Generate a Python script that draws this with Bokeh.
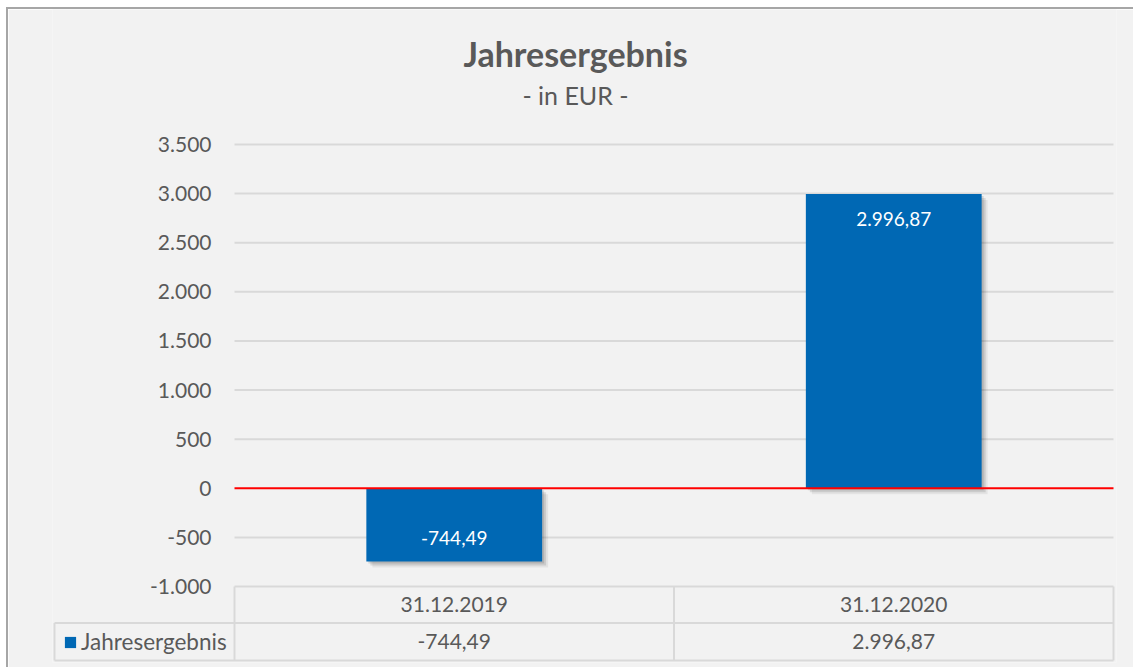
from bokeh.plotting import figure
from bokeh.models import Range1d, FixedTicker, Legend, LegendItem, ColumnDataSource
from bokeh.core.properties import value
from bokeh.embed import file_html
from bokeh.resources import INLINE

# ---- data ----
categories = ["31.12.2019", "31.12.2020"]
series_name = "Jahresergebnis"
values = [-744.49, 2996.87]
tick_values = [-1000, -500, 0, 500, 1000, 1500, 2000, 2500, 3000, 3500]
tick_labels = ["-1.000", "-500", "0", "500", "1.000", "1.500", "2.000", "2.500", "3.000", "3.500"]
title_text = "Jahresergebnis"
subtitle_text = "- in EUR -"


def de(v):
    s = f"{v:,.2f}"
    return s.replace(",", "X").replace(".", ",").replace("X", ".")


FONT = "Lato"
TXT = "#595959"
BLUE = "#0068b4"
GRID = "#d9d9d9"

# pixel geometry helpers (layout only, page pixels)
FRAME_L = 52          # frame left
FRAME_T = 9           # frame top
PLOT_L = 234          # where the category axis starts
Y3500 = 144           # where the top tick sits
PX_X = 439.5          # px per category unit
PX_Y = 442.0 / 4500   # px per value unit


def px_to_x(px):
    return (px - PLOT_L) / PX_X


def px_to_y(py):
    return 3500 - (py - Y3500) / PX_Y


x0 = px_to_x(FRAME_L)
x1 = px_to_x(1116)
y1 = px_to_y(FRAME_T)
y0 = px_to_y(662)
cell_left = px_to_x(54)
row1_bottom = px_to_y(622.5)
row2_bottom = px_to_y(660)
row1_mid = (-1000 + row1_bottom) / 2
row2_mid = (row1_bottom + row2_bottom) / 2

p = figure(width=1127, height=660, output_backend="svg", toolbar_location=None,
           x_range=Range1d(x0, x1), y_range=Range1d(y0, y1),
           x_axis_type=None, title=None,
           min_border_left=FRAME_L - 8, min_border_right=19, min_border_top=0, min_border_bottom=7,
           background_fill_color="#f2f2f2", border_fill_color="#f2f2f2",
           outline_line_color=None, margin=(7, 0, 0, 6),
           styles={"border-left": "2px solid #a6a6a6", "border-top": "2px solid #a6a6a6"})

n = len(categories)
xs = [i + 0.5 for i in range(n)]
src = ColumnDataSource(dict(
    x=xs, cat=categories, v=values, lab=[de(v) for v in values],
    top=[max(v, 0) for v in values], bottom=[min(v, 0) for v in values],
    yoff=[25 if v >= 0 else -23 for v in values],
))

# y axis (labels pulled inside, right-aligned before the plot area)
p.yaxis.ticker = FixedTicker(ticks=tick_values)
p.yaxis.major_label_overrides = {t: l for t, l in zip(tick_values, tick_labels)}
p.yaxis.axis_line_color = None
p.yaxis.major_tick_line_color = None
p.yaxis.minor_tick_line_color = None
p.yaxis.major_tick_out = 0
p.yaxis.major_tick_in = 0
p.yaxis.major_label_standoff = -(211 - FRAME_L)
p.yaxis.major_label_text_font = FONT
p.yaxis.major_label_text_font_size = "21px"
p.yaxis.major_label_text_color = TXT
p.ygrid.visible = False
p.xgrid.visible = False

# gridlines over the plot area only
grid_vals = [t for t in tick_values if t != 0]
p.segment(x0=[0] * len(grid_vals), x1=[n] * len(grid_vals), y0=grid_vals, y1=grid_vals,
          line_color=GRID, line_width=2)

# shadows
for d, a in [(6, 0.06), (4, 0.10), (2, 0.12)]:
    dx = d / PX_X
    dy = d / PX_Y
    p.quad(left=[x - 0.2 + dx for x in xs], right=[x + 0.2 + dx for x in xs],
           top=[t - dy for t in src.data["top"]], bottom=[b - dy for b in src.data["bottom"]],
           fill_color="black", fill_alpha=a, line_color=None)

bars = p.vbar(x="x", width=0.4, top="top", bottom="bottom", source=src,
              fill_color=BLUE, line_color=None)

# zero line
p.segment(x0=[0], x1=[n], y0=[0], y1=[0], line_color="#ff0000", line_width=2)

p.text(x="x", y="v", text="lab", source=src, y_offset="yoff",
       text_align="center", text_baseline="middle", text_color="white",
       text_font=value(FONT), text_font_size="19px")

# data table
p.segment(x0=list(range(n + 1)), x1=list(range(n + 1)), y0=[-1000] * (n + 1), y1=[row2_bottom] * (n + 1),
          line_color=GRID, line_width=2)
p.segment(x0=[cell_left, cell_left], x1=[n, n], y0=[row1_bottom, row2_bottom], y1=[row1_bottom, row2_bottom],
          line_color=GRID, line_width=2)
p.segment(x0=[cell_left], x1=[cell_left], y0=[row1_bottom], y1=[row2_bottom],
          line_color=GRID, line_width=2)
p.text(x="x", y=row1_mid, text="cat", source=src, text_align="center", text_baseline="middle",
       text_color=TXT, text_font=value(FONT), text_font_size="21px")
p.text(x="x", y=row2_mid, text="lab", source=src, text_align="center", text_baseline="middle",
       text_color=TXT, text_font=value(FONT), text_font_size="21px")

legend = Legend(items=[LegendItem(label=series_name, renderers=[bars])],
                location=(63 - FRAME_L, 7), padding=0, spacing=0, margin=0,
                border_line_color=None, background_fill_alpha=0,
                glyph_width=14, glyph_height=14, label_standoff=4,
                label_text_font=FONT, label_text_font_size="22.5px", label_text_color=TXT)
p.add_layout(legend)

# titles (centred on the chart box)
title_x = px_to_x(575)
p.text(x=[title_x], y=[px_to_y(53)], text=[title_text], text_align="center",
       text_baseline="alphabetic", text_color=TXT, text_font=value(FONT),
       text_font_size="34px", text_font_style="bold")
p.text(x=[title_x], y=[px_to_y(94)], text=[subtitle_text], text_align="center",
       text_baseline="alphabetic", text_color=TXT, text_font=value(FONT),
       text_font_size="25px")

open("out.html", "w").write(file_html(p, INLINE))
